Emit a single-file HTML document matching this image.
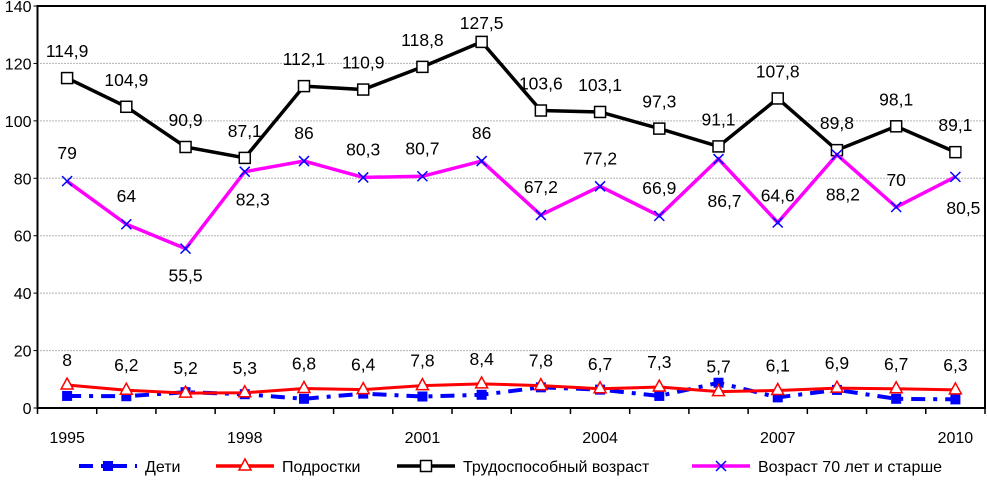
<!DOCTYPE html>
<html><head><meta charset="utf-8"><style>
body{margin:0;background:#fff;font-family:"Liberation Sans",sans-serif}
svg text{font-family:"Liberation Sans","DejaVu Sans",sans-serif;font-size:16px;fill:#000}
svg text.v{font-size:17.5px}
</style></head><body>
<svg id="c" width="987" height="479"></svg>
<script>
const years=[1995,1996,1997,1998,1999,2000,2001,2002,2003,2004,2005,2006,2007,2008,2009,2010];
const yearLabels=["1995","1998","2001","2004","2007","2010"];
const yTicks=[0,20,40,60,80,100,120,140];
const deti=[4.2,4.1,5.5,4.8,3.2,5.0,4.0,4.6,7.2,6.4,4.2,8.8,3.7,6.3,3.2,3.0];
const podrostki=[8,6.2,5.2,5.3,6.8,6.4,7.8,8.4,7.8,6.7,7.3,5.7,6.1,6.9,6.7,6.3];
const trud=[114.9,104.9,90.9,87.1,112.1,110.9,118.8,127.5,103.6,103.1,97.3,91.1,107.8,89.8,98.1,89.1];
const old70=[79,64,55.5,82.3,86,80.3,80.7,86,67.2,77.2,66.9,86.7,64.6,88.2,70,80.5];
// label placement offsets (pixels, not data)
const oldLabelDy=[-28,-28,27,28,-28,-28,-28,-28,-28,-28,-28,42,-27,40,-27,31];
const oldLabelDx=[0,0,0,8,0,0,0,0,0,0,0,6,0,6,0,8];
const NS="http://www.w3.org/2000/svg",svg=document.getElementById('c');
const L=37.5,R=985,T=6,B=408,step=(R-L)/years.length;
const x=i=>L+step*(i+0.5), y=v=>B-(B-T)*v/140;
function el(t,a,p){const e=document.createElementNS(NS,t);for(const k in a)e.setAttribute(k,a[k]);(p||svg).appendChild(e);return e;}
const fmt=v=>String(v).replace('.',',');
yTicks.forEach(v=>{
 if(v>0&&v<140){const g=el('line',{x1:L,x2:R,y1:y(v),y2:y(v),stroke:'#666','stroke-dasharray':'1 2','stroke-width':1});
 
 }
 const t=el('text',{x:L-6,y:y(v)+6,'text-anchor':'end'});t.textContent=v;
 
 
 el('line',{x1:L-4,x2:L,y1:y(v),y2:y(v),stroke:'#000'});
});
el('rect',{x:L,y:T,width:R-L,height:B-T,fill:'none',stroke:'#000','stroke-width':2});
for(let i=0;i<=years.length;i++)el('line',{x1:L+step*i,x2:L+step*i,y1:B,y2:B+6,stroke:'#000','stroke-width':1.5});
yearLabels.forEach(lbl=>{const i=years.indexOf(+lbl);const t=el('text',{x:x(i),y:B+35,'text-anchor':'middle'});t.textContent=lbl;
 
 });
function series(data,color,w,dash,name){
 const p=el('polyline',{points:data.map((v,i)=>x(i)+','+y(v)).join(' '),fill:'none',stroke:color,'stroke-width':w,'stroke-dasharray':dash||''});
 
 
}
series(deti,'#0000ff',4,'14 8 4 8','deti');
deti.forEach((v,i)=>{const m=el('rect',{x:x(i)-5,y:y(v)-5,width:10,height:10,fill:'#0000ff'});
 
 });
series(podrostki,'#ff0000',3,'','podrostki');
podrostki.forEach((v,i)=>{const m=el('polygon',{points:`${x(i)},${y(v)-7} ${x(i)-6},${y(v)+4} ${x(i)+6},${y(v)+4}`,fill:'#fff',stroke:'#ff0000','stroke-width':1.5});
 
 
 const t=el('text',{x:x(i),y:y(v)-19,'text-anchor':'middle','class':'v'});t.textContent=fmt(v);
 
 });
series(trud,'#000',3.5,'','trud');
trud.forEach((v,i)=>{const m=el('rect',{x:x(i)-5.5,y:y(v)-5.5,width:11,height:11,fill:'#fff',stroke:'#000','stroke-width':1.5});
 
 
 const dy=Math.max(-27,T+17-y(v));
 const t=el('text',{x:x(i),y:y(v)+dy+6,'text-anchor':'middle','class':'v'});t.textContent=fmt(v);
 
 });
series(old70,'#ff00ff',3.5,'','old70');
old70.forEach((v,i)=>{const g=el('path',{d:`M${x(i)-5},${y(v)-5}L${x(i)+5},${y(v)+5}M${x(i)+5},${y(v)-5}L${x(i)-5},${y(v)+5}`,stroke:'#0000ff','stroke-width':1.5});
 
 
 const t=el('text',{x:x(i)+oldLabelDx[i],y:y(v)+oldLabelDy[i]+6,'text-anchor':'middle','class':'v'});t.textContent=fmt(v);
 
 });
// legend
const ly=466;
function leg(x0,color,w,dash,mk,label,name){
 const g=el('g',{});
 el('line',{x1:x0,x2:x0+58,y1:ly,y2:ly,stroke:color,'stroke-width':w,'stroke-dasharray':dash||''},g);
 const cx=x0+29;
 if(mk=='sq')el('rect',{x:cx-5,y:ly-5,width:10,height:10,fill:'#0000ff'},g);
 if(mk=='tri')el('polygon',{points:`${cx},${ly-7} ${cx-6},${ly+4} ${cx+6},${ly+4}`,fill:'#fff',stroke:'#ff0000','stroke-width':1.5},g);
 if(mk=='osq')el('rect',{x:cx-5.5,y:ly-5.5,width:11,height:11,fill:'#fff',stroke:'#000','stroke-width':1.5},g);
 if(mk=='x')el('path',{d:`M${cx-5},${ly-5}L${cx+5},${ly+5}M${cx+5},${ly-5}L${cx-5},${ly+5}`,stroke:'#0000ff','stroke-width':1.5},g);
 const t=el('text',{x:x0+66,y:ly+6},g);t.textContent=label;
}
leg(79,'#0000ff',4,'14 8 4 8','sq','Дети','deti');
leg(216,'#ff0000',3.5,'','tri','Подростки','podrostki');
leg(397,'#000',3.5,'','osq','Трудоспособный возраст','trud');
leg(692,'#ff00ff',3.5,'','x','Возраст 70 лет и старше','old70');
</script>
</body></html>
